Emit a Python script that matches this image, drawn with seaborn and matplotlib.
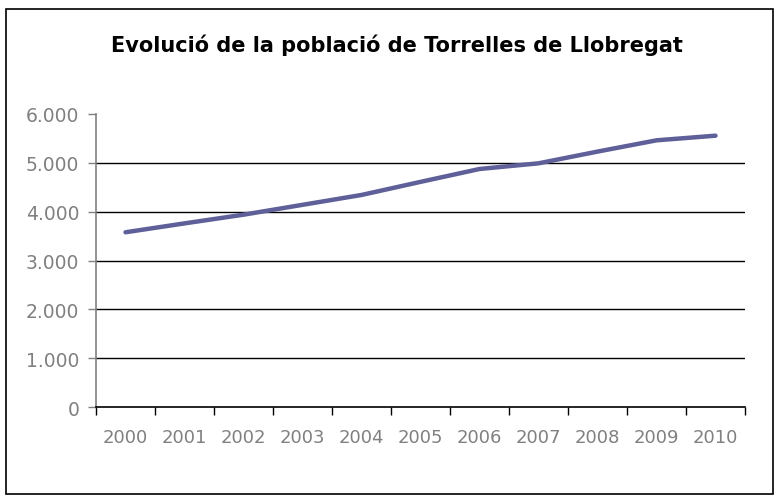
import matplotlib
matplotlib.use("Agg")
import matplotlib.pyplot as plt
import seaborn as sns
import pandas as pd
from matplotlib.ticker import FuncFormatter
from matplotlib.patches import Rectangle

# Dades (llegides del gràfic)
anys = ['2000', '2001', '2002', '2003', '2004', '2005', '2006', '2007', '2008', '2009', '2010']
poblacio = [3578, 3760, 3938, 4140, 4342, 4610, 4874, 4990, 5230, 5461, 5556]
y_ticks = [0, 1000, 2000, 3000, 4000, 5000, 6000]

df = pd.DataFrame({'any': anys, 'poblacio': poblacio})

sns.set_style('white')
plt.rcParams['font.family'] = ['DejaVu Sans']

fig = plt.figure(figsize=(7.79, 5.02), dpi=100)
ax = fig.add_axes([96 / 779, 1 - 408 / 502, (745 - 96) / 779, (408 - 115) / 502])

x = list(range(len(anys)))
sns.lineplot(x=x, y=df['poblacio'], ax=ax, color='#5f5f99', linewidth=3.2,
             solid_capstyle='round', solid_joinstyle='round', zorder=3)

ax.set_xlim(-0.5, len(anys) - 0.5)
ax.set_ylim(0, 6000)
ax.set_xlabel('')
ax.set_ylabel('')

# graella horitzontal (sense la línia de 6.000)
for v in y_ticks[1:-1]:
    ax.axhline(v, color='black', linewidth=1.0, zorder=1)

ax.set_yticks(y_ticks)
ax.yaxis.set_major_formatter(FuncFormatter(lambda v, p: f'{int(v):,}'.replace(',', '.')))
ax.set_xticks([i - 0.5 for i in range(len(anys) + 1)])
ax.set_xticklabels([])
ax.set_xticks(x, minor=True)
ax.set_xticklabels(anys, minor=True)

ax.tick_params(axis='y', which='major', left=True, length=6, width=1, color='#808080',
               labelsize=13.5, labelcolor='#808080', pad=6)
ax.tick_params(axis='x', which='major', bottom=True, length=6, width=1, color='black')
ax.tick_params(axis='x', which='minor', bottom=False, length=0, labelsize=13,
               labelcolor='#808080', pad=15)

for side in ['top', 'right']:
    ax.spines[side].set_visible(False)
ax.spines['left'].set_color('#808080')
ax.spines['left'].set_linewidth(1.2)
ax.spines['bottom'].set_color('black')
ax.spines['bottom'].set_linewidth(1.2)

fig.text(397 / 779, 1 - 45 / 502, 'Evolució de la població de Torrelles de Llobregat',
         ha='center', va='center', fontsize=15, fontweight='bold', color='black')

# marc exterior
fig.patches.append(Rectangle((6 / 779, 1 - 495 / 502), 767 / 779, 485 / 502,
                             transform=fig.transFigure, fill=False,
                             edgecolor='black', linewidth=1.2))

plt.savefig('out.png', dpi=100)
